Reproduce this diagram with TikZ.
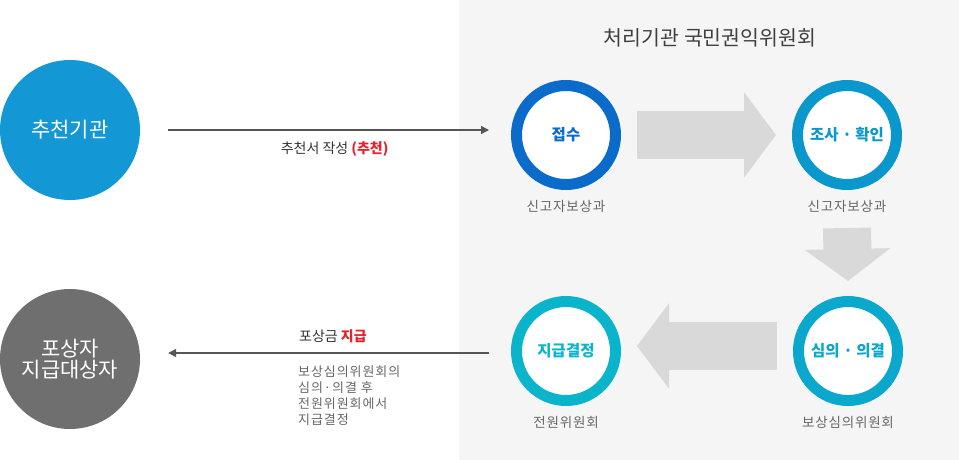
\documentclass[tikz,border=0pt]{standalone}
\usepackage{fontspec}
\setmainfont{Noto Sans CJK KR}
\usetikzlibrary{positioning,arrows.meta,calc}
\definecolor{panelgray}{HTML}{F5F5F5}
\definecolor{orgblue}{HTML}{1397D5}
\definecolor{winnergray}{HTML}{6F6F6F}
\definecolor{stepone}{HTML}{0B6BCB}
\definecolor{steptwo}{HTML}{0A97CC}
\definecolor{stepthree}{HTML}{0AA8CC}
\definecolor{stepfour}{HTML}{0AB5CC}
\definecolor{blockgray}{HTML}{D9D9D9}
\definecolor{linegray}{HTML}{555555}
\definecolor{textgray}{HTML}{666666}
\definecolor{hotred}{HTML}{E8212A}
\begin{document}
\begin{tikzpicture}[x=1pt, y=-1pt, every node/.style={inner sep=0pt, align=center},
    ring/.style={circle, draw=#1, line width=11pt, fill=white, minimum size=99pt, text=#1, font=\fontsize{15.5}{18}\selectfont\bfseries},
    party/.style={circle, fill=#1, minimum size=140pt, text=white, font=\fontsize{21}{23}\selectfont},
    sublabel/.style={text=textgray, font=\fontsize{13.5}{16}\selectfont\addfontfeature{LetterSpace=6}},
    flowlabel/.style={text=black!80, font=\fontsize{14}{16}\selectfont},
    flow/.style={draw=linegray, line width=1.2pt, -{Triangle[length=8pt, width=8pt]}},
    block/.style={draw=blockgray, line width=48pt, -{Triangle[length=32pt, width=84pt]}}]

  \useasboundingbox (0,0) rectangle (959,460);
  \fill[panelgray] (459,0) rectangle (959,460);

  \node[font=\fontsize{20.5}{24}\selectfont, text=black!75] (title) at (710,38) {처리기관 국민권익위원회};

  % left side
  \node[party=orgblue] (chucheon) at (70,130) {추천기관};
  \node[party=winnergray] (posang) at (70,359) {포상자\\[-2pt]지급대상자};

  % steps
  \node[ring=stepone] (jeopsu) at (566,135) {접수};
  \node[ring=steptwo] (josa) at (847,135) {조사 · 확인};
  \node[ring=stepthree] (simui) at (848,351) {심의 · 의결};
  \node[ring=stepfour] (jigeup) at (566,351) {지급결정};

  \node[sublabel, below=10pt of jeopsu] (jeopsudept) {신고자보상과};
  \node[sublabel, below=10pt of josa] (josadept) {신고자보상과};
  \node[sublabel, below=10pt of simui] (simuidept) {보상심의위원회};
  \node[sublabel, below=10pt of jigeup] (jigeupdept) {전원위원회};

  \draw[block] ([xshift=16pt]jeopsu.east) -- ([xshift=-16pt]josa.west);
  \draw[block] ([yshift=-38pt]josa.south) -- ([yshift=15pt]simui.north);
  \draw[block] ([shift={(-16pt,5pt)}]simui.west) -- ([shift={(16pt,5pt)}]jigeup.east);

  % recommendation and payment
  \draw[flow] ($(chucheon.east)+(28,0)$) -- ($(chucheon.east -| jeopsu.west)+(-22,0)$)
    node[flowlabel, midway, below=11pt, xshift=6pt] (recolbl) {추천서 작성 \textcolor{hotred}{\bfseries (추천)}};
  \draw[flow] ($(posang.east -| jigeup.west)+(-22,-6)$) -- ($(posang.east)+(28,-6)$);

  \node[flowlabel, anchor=west] (paylbl) at (299,336) {포상금 \textcolor{hotred}{\bfseries 지급}};
  \node[sublabel, anchor=north west, align=left, font=\fontsize{13}{16}\selectfont\addfontfeature{LetterSpace=7}] (paynote) at (298,366)
    {보상심의위원회의\\심의·의결 후\\전원위원회에서\\지급결정};

\end{tikzpicture}
\end{document}
